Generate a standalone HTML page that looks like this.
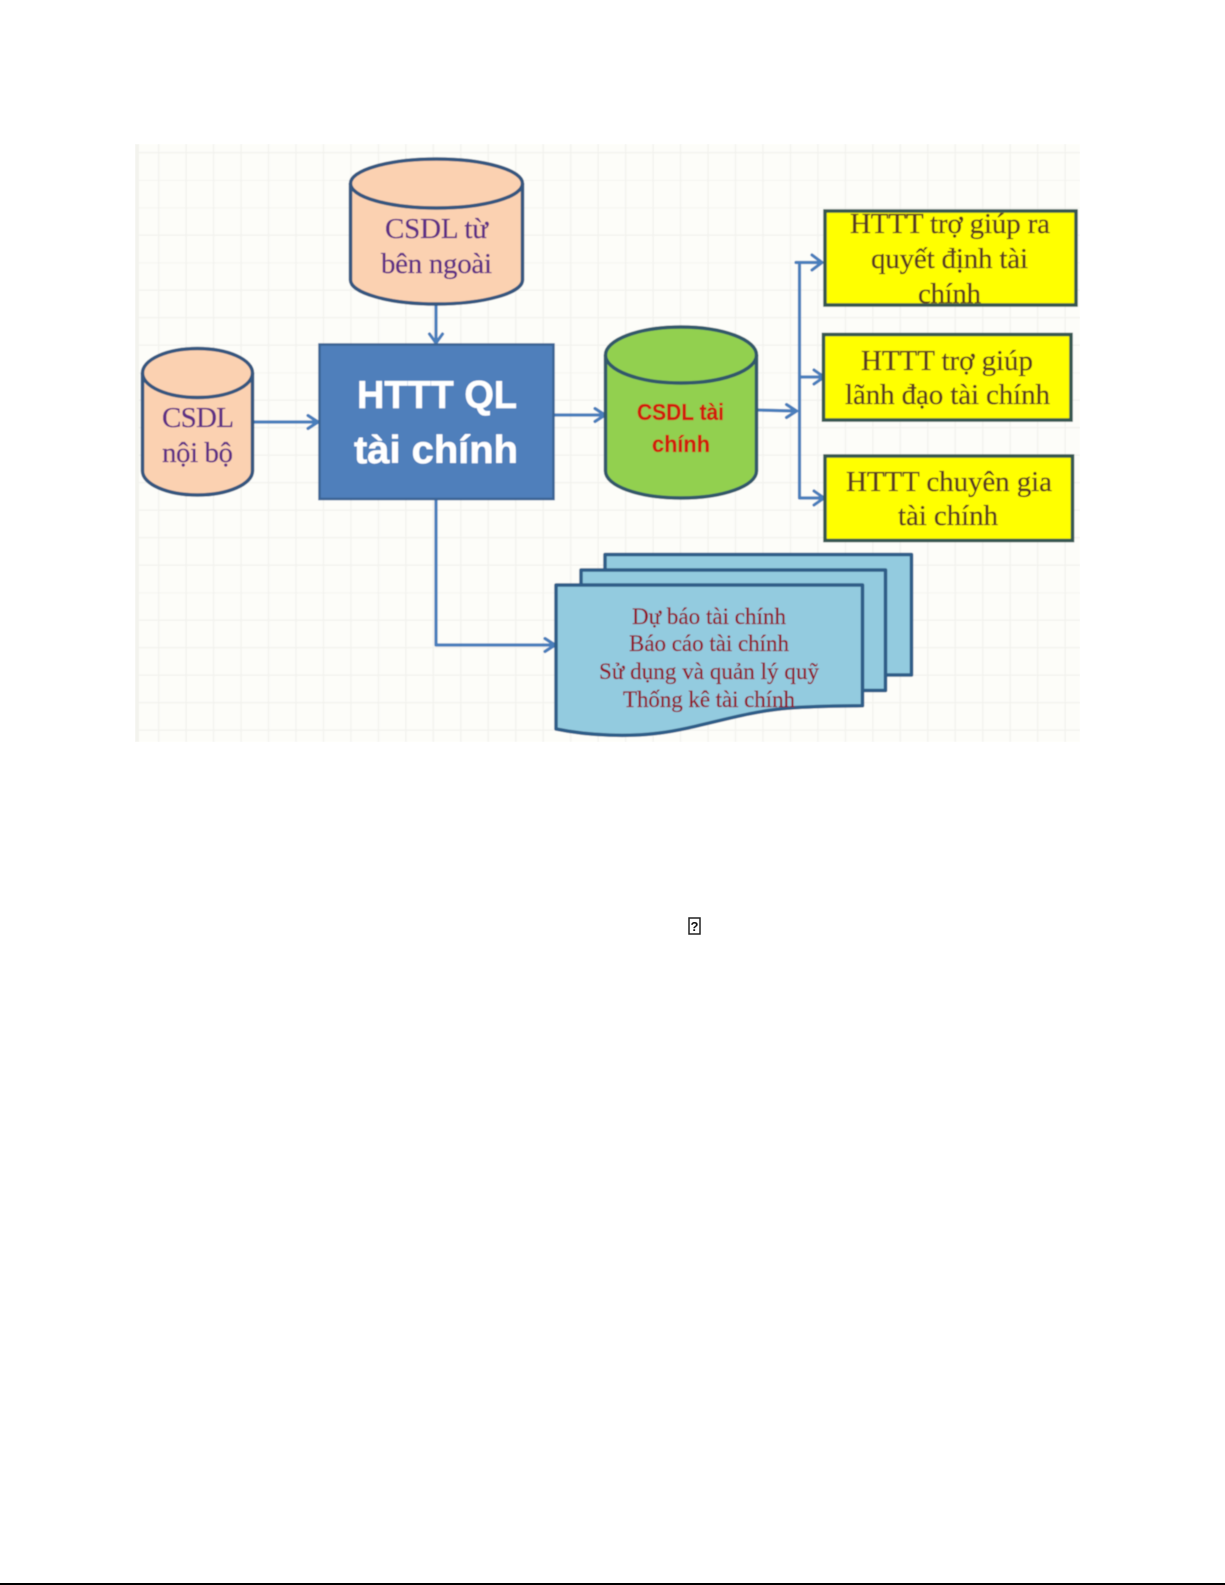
<!DOCTYPE html>
<html><head><meta charset="utf-8"><style>
html,body{margin:0;padding:0;background:#fff;width:1225px;height:1585px;overflow:hidden}
svg{display:block}
.s{font-family:"Liberation Serif",serif}
.b{font-family:"Liberation Sans",sans-serif;font-weight:bold}
</style></head><body>
<svg width="1225" height="1585" viewBox="0 0 1225 1585" xmlns="http://www.w3.org/2000/svg">
<defs>
<pattern id="g" x="158" y="152" width="27.47" height="27.5" patternUnits="userSpaceOnUse">
<path d="M0.5,0V27.5M0,0.5H27.47" stroke="#f2f2ee" stroke-width="1.5" fill="none"/>
</pattern>
<filter id="bl" x="0" y="0" width="100%" height="100%"><feGaussianBlur stdDeviation="0.4"/></filter>
</defs>
<g filter="url(#bl)">
<rect x="135" y="144" width="945" height="598" fill="#fdfdf9"/>
<rect x="135" y="144" width="945" height="598" fill="url(#g)"/>
<rect x="135" y="144" width="4" height="598" fill="#f3f3ee"/>

<g fill="none" stroke="#4a7ebb" stroke-width="3.200" stroke-linejoin="round" stroke-linecap="round">
<path d="M436,304V342M429.500,334L436,343L442.500,334"/>
<path d="M253,422H317M308,415.500L318,422L308,428.500"/>
<path d="M553,415H603M595,408.500L605,415L595,421.500"/>
<path d="M757,410L795,411M786.500,404.500L796.500,411L786.500,417.500"/>
<path d="M799.500,265V498H823M796,262.500H821M799.500,377H823M812,255L822,262.500L812,270M814,370L824,377L814,384M814,491L824,498L814,505"/>
<path d="M436,499V645H554M545,638.500L555,645L545,651.500"/>
</g>

<g stroke="#34567f" stroke-width="3.500" fill="#fbd1b1">
<path d="M350.500,183.500V280C350.500,293 389,304 436.500,304S522.500,293 522.500,280V183.500"/>
<ellipse cx="436.500" cy="183.500" rx="86" ry="24.500"/>
<path d="M142.500,373V471C142.500,484 167,495 197.500,495S252.500,484 252.500,471V373"/>
<ellipse cx="197.500" cy="373" rx="55" ry="24.500"/>
</g>
<g stroke="#33596a" stroke-width="3.500" fill="#92d050">
<path d="M605.500,355V471C605.500,486 639,498 681,498S756.500,486 756.500,471V355"/>
<ellipse cx="681" cy="355" rx="75.500" ry="28"/>
</g>
<rect x="319.500" y="344.500" width="234" height="154.500" fill="#4f7fbb" stroke="#3b6494" stroke-width="2.500"/>

<g fill="#ffff00" stroke="#36564f" stroke-width="3.500">
<rect x="825" y="211" width="251" height="94"/>
<rect x="823.500" y="334.500" width="247.500" height="85.500"/>
<rect x="825" y="456" width="247.500" height="84.500"/>
</g>

<g fill="#93cbdf" stroke="#2f5d88" stroke-width="3.500" stroke-linejoin="round">
<rect x="605" y="554.500" width="306.500" height="120.500"/>
<rect x="581" y="570" width="304.500" height="120.500"/>
<path d="M556,585H862.500V705.700C840,706 815,706 790,708C740,712 700,728 660,733C630,737 590,736 556,729Z"/>
</g>

<g class="s" font-size="29" fill="#5f2d85" stroke="#5f2d85" stroke-width="0.300">
<text x="385" y="238" textLength="103">CSDL từ</text>
<text x="381" y="273" textLength="111">bên ngoài</text>
<text x="162" y="427" textLength="72">CSDL</text>
<text x="162" y="462" textLength="71">nội bộ</text>
</g>
<g class="b" fill="#fff" stroke="#fff" stroke-width="0.500" font-size="39">
<text x="357" y="408" textLength="160" lengthAdjust="spacingAndGlyphs">HTTT QL</text>
<text x="354" y="463" textLength="164" lengthAdjust="spacingAndGlyphs">tài chính</text>
</g>
<g class="b" fill="#d01f0c" stroke="#d01f0c" stroke-width="0.300" font-size="23">
<text x="637" y="420" textLength="87" lengthAdjust="spacingAndGlyphs">CSDL tài</text>
<text x="652" y="452" textLength="58" lengthAdjust="spacingAndGlyphs">chính</text>
</g>
<g class="s" font-size="29" fill="#5a3a24" stroke="#5a3a24" stroke-width="0.300">
<text x="850" y="233" textLength="200">HTTT trợ giúp ra</text>
<text x="871" y="268" textLength="157">quyết định tài</text>
<text x="918" y="303" textLength="63">chính</text>
<text x="861" y="370" textLength="172">HTTT trợ giúp</text>
<text x="845" y="404" textLength="205">lãnh đạo tài chính</text>
<text x="846" y="491" textLength="206">HTTT chuyên gia</text>
<text x="898" y="525" textLength="100">tài chính</text>
</g>
<g class="s" font-size="23" fill="#8f1628" stroke="#8f1628" stroke-width="0.250">
<text x="632" y="624" textLength="154">Dự báo tài chính</text>
<text x="629" y="651" textLength="160">Báo cáo tài chính</text>
<text x="599" y="679" textLength="220">Sử dụng và quản lý quỹ</text>
<text x="623" y="707" textLength="172">Thống kê tài chính</text>
</g>
</g>

<rect x="689" y="918" width="11" height="16" fill="none" stroke="#222" stroke-width="1.500"/>
<text x="694.500" y="931" font-family="Liberation Sans, sans-serif" font-weight="bold" font-size="13" text-anchor="middle" fill="#111">?</text>
<rect x="0" y="1583" width="1225" height="2" fill="#000"/>
</svg>
</body></html>
